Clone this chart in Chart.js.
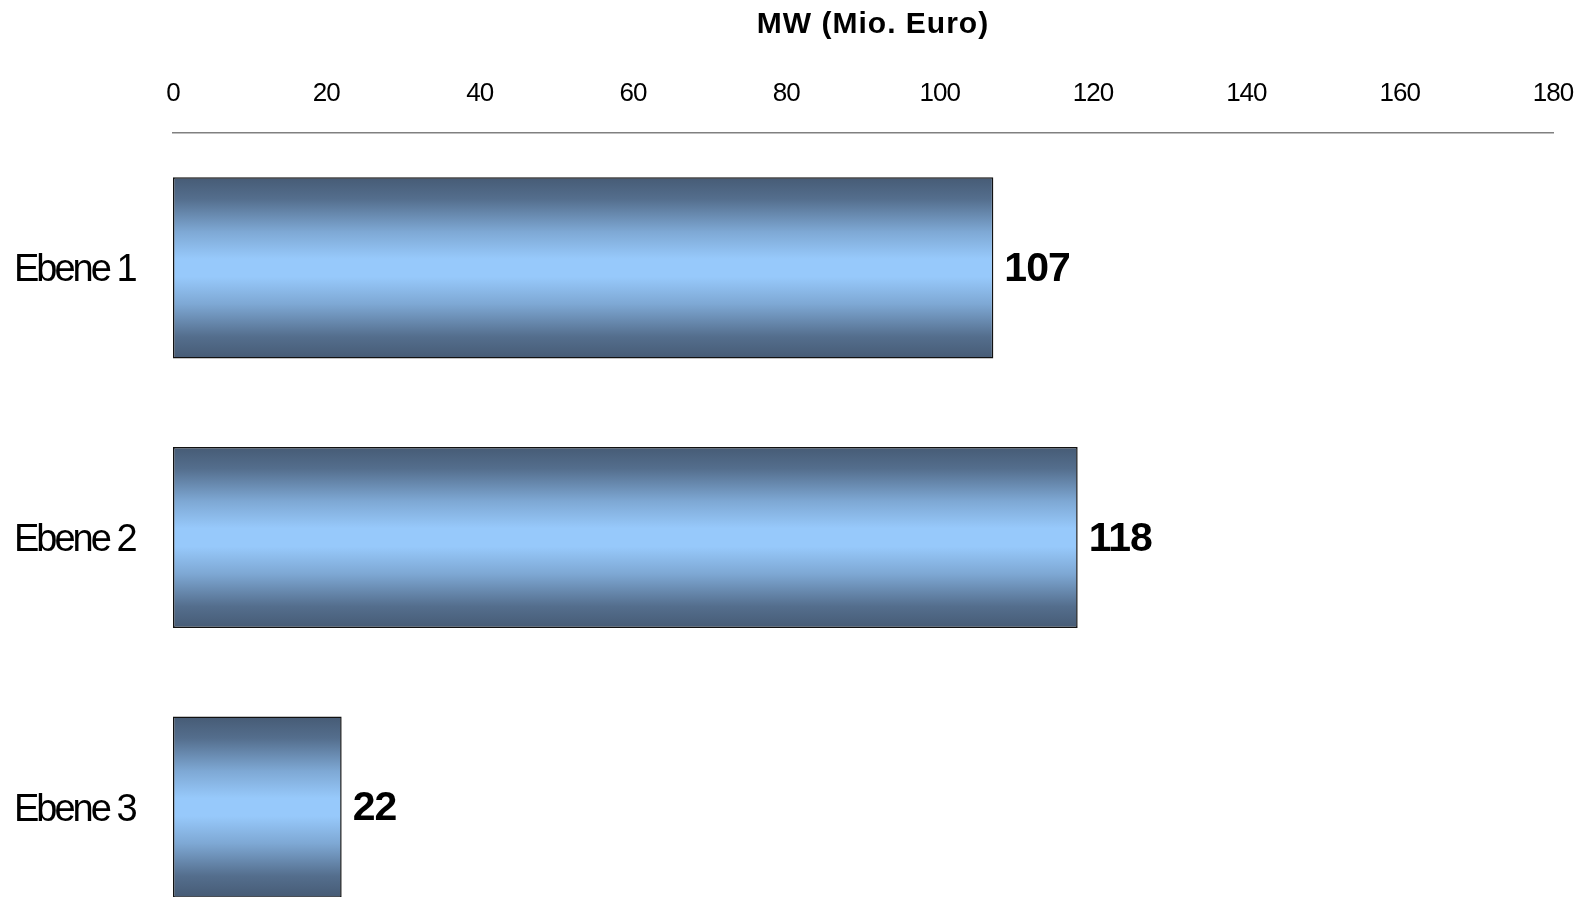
<!DOCTYPE html>
<html lang="de">
<head>
    <meta charset="UTF-8">
    <title>MW (Mio. Euro)</title>
    <script src="https://cdn.jsdelivr.net/npm/chart.js"></script>
    <style>
        html, body {
            margin: 0;
            padding: 0;
            background: #ffffff;
            overflow: hidden;
        }
        #chart-container {
            width: 1582px;
            height: 942px;
        }
    </style>
</head>
<body>
    <div id="chart-container">
        <canvas id="mwChart" width="1582" height="942"></canvas>
    </div>

    <script>
        // data
        const categories = ['Ebene 1', 'Ebene 2', 'Ebene 3'];
        const mwValues = [107, 118, 22];
        const axisTitle = 'MW (Mio. Euro)';
        const axisMin = 0;
        const axisMax = 180;
        const axisStep = 20;

        const FONT = "'Liberation Sans', Arial, sans-serif";
        const BAR_PCT = 0.672;

        // the original text is set tighter/wider than the plain font, so wrap
        // the scale's own label/title drawing with a letter spacing
        function withSpacing(scale, fnName, spacing, shiftX, shiftY) {
            const orig = scale[fnName];
            if (orig._spaced) return;
            const wrapped = function (...args) {
                this.ctx.save();
                this.ctx.letterSpacing = spacing;
                this.ctx.translate(shiftX || 0, shiftY || 0);
                orig.apply(this, args);
                this.ctx.restore();
            };
            wrapped._spaced = true;
            scale[fnName] = wrapped;
        }

        // vertical gradient, dark at the edges and light in the middle of each bar
        function barGradient(context) {
            const chart = context.chart;
            const yScale = chart.scales.y;
            if (!chart.chartArea || !yScale) return '#99ccff';
            const center = yScale.getPixelForValue(context.dataIndex);
            const h = yScale.height / categories.length * BAR_PCT;
            const g = chart.ctx.createLinearGradient(0, center - h / 2, 0, center + h / 2);
            g.addColorStop(0, '#465b75');
            g.addColorStop(0.12, '#546e8d');
            g.addColorStop(0.3, '#7ea8d4');
            g.addColorStop(0.45, '#97c9fb');
            g.addColorStop(0.55, '#97c9fb');
            g.addColorStop(0.7, '#7ea8d4');
            g.addColorStop(0.88, '#546e8d');
            g.addColorStop(1, '#465b75');
            return g;
        }

        // value labels to the right of the bars
        const valueLabels = {
            id: 'valueLabels',
            afterDatasetsDraw(chart) {
                const ctx = chart.ctx;
                const meta = chart.getDatasetMeta(0);
                ctx.save();
                ctx.font = 'bold 41px ' + FONT;
                ctx.letterSpacing = '-1px';
                ctx.fillStyle = '#000000';
                ctx.textAlign = 'left';
                ctx.textBaseline = 'middle';
                meta.data.forEach((bar, i) => {
                    ctx.fillText(String(mwValues[i]), bar.x + 11, bar.y + 2);
                });
                ctx.restore();
            }
        };

        const ctx = document.getElementById('mwChart').getContext('2d');
        const mwChart = new Chart(ctx, {
            type: 'bar',
            data: {
                labels: categories,
                datasets: [{
                    label: axisTitle,
                    data: mwValues,
                    backgroundColor: barGradient,
                    borderColor: '#111111',
                    borderWidth: 1.5,
                    borderSkipped: false,
                    barPercentage: BAR_PCT,
                    categoryPercentage: 1
                }]
            },
            options: {
                indexAxis: 'y',
                responsive: false,
                animation: false,
                layout: {
                    padding: { left: 14, right: 29, top: 0, bottom: 0 }
                },
                plugins: {
                    legend: { display: false },
                    tooltip: { enabled: false }
                },
                scales: {
                    x: {
                        position: 'top',
                        min: axisMin,
                        max: axisMax,
                        grid: { display: false, drawTicks: false },
                        border: { display: true, color: '#808080', width: 1.5 },
                        ticks: {
                            stepSize: axisStep,
                            color: '#000000',
                            padding: 24,
                            font: { family: FONT, size: 26 }
                        },
                        title: {
                            display: true,
                            text: axisTitle,
                            color: '#000000',
                            font: { family: FONT, size: 30, weight: 'bold' },
                            padding: { top: 7, bottom: 30 }
                        },
                        afterFit(scale) {
                            scale.height = 133;
                            scale.paddingLeft = 0;
                            scale.paddingRight = 0;
                            withSpacing(scale, 'drawLabels', '-1px');
                            withSpacing(scale, 'drawTitle', '1px', 10);
                        }
                    },
                    y: {
                        grid: { display: false, drawTicks: false },
                        border: { display: false },
                        ticks: {
                            color: '#000000',
                            crossAlign: 'far',
                            font: { family: FONT, size: 38 }
                        },
                        afterFit(scale) {
                            scale.width = 159;
                            scale.paddingTop = 0;
                            scale.paddingBottom = 0;
                            withSpacing(scale, 'drawLabels', '-3px', 0, 3);
                        }
                    }
                }
            },
            plugins: [valueLabels]
        });
    </script>
</body>
</html>
